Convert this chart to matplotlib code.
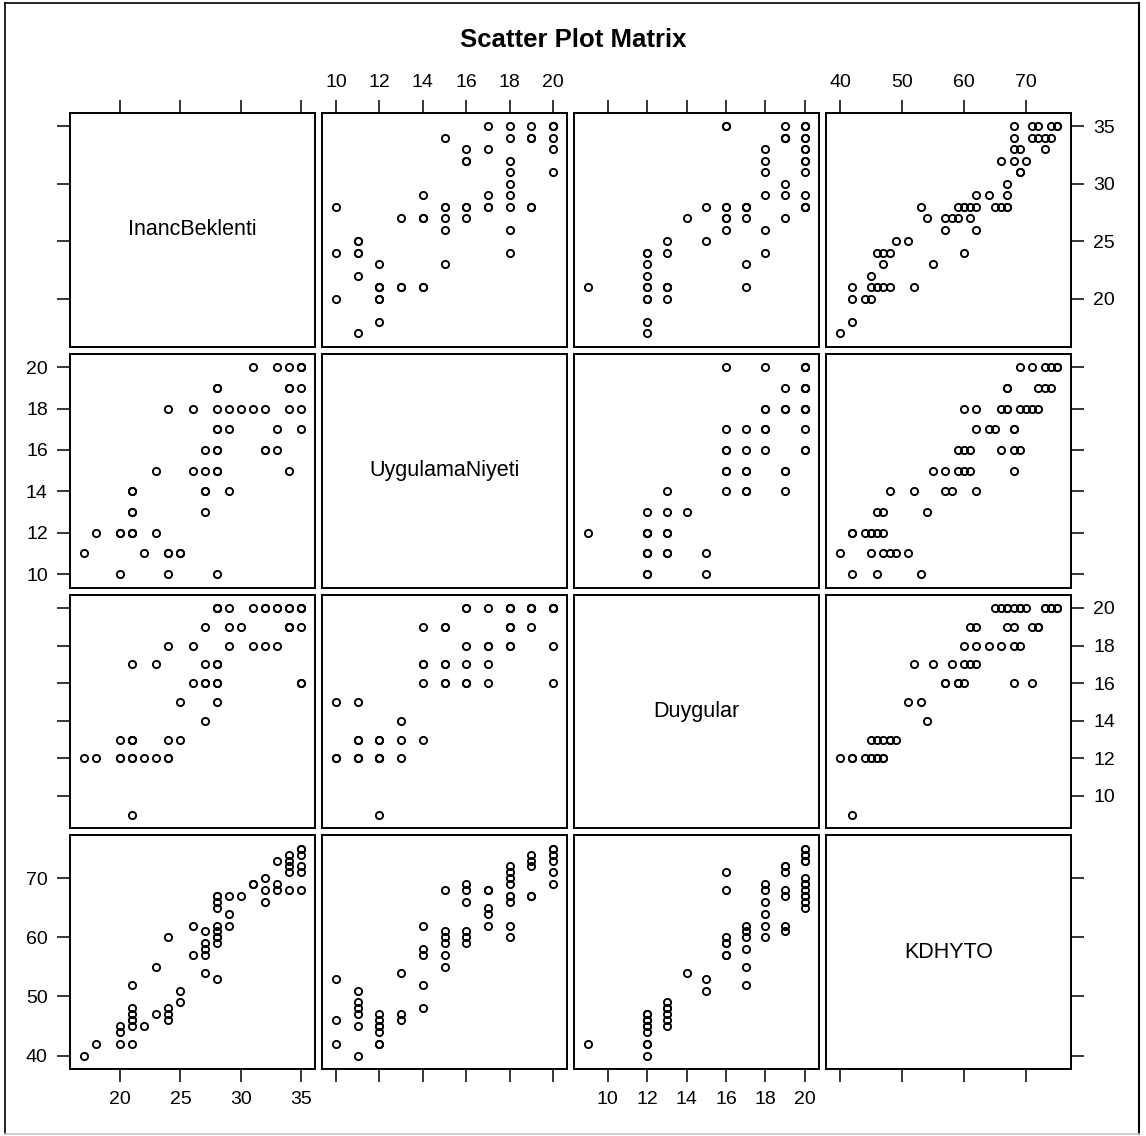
import numpy as np
import matplotlib
matplotlib.use("Agg")
import matplotlib.pyplot as plt
from matplotlib.lines import Line2D

plt.rcParams['font.family'] = ['Liberation Sans', 'DejaVu Sans']

inanc = [17, 18, 20, 20, 20, 21, 21, 21, 21, 21, 21, 21, 22, 23, 23,
         24, 24, 24, 24, 25, 25, 26, 26, 27, 27, 27, 27, 27,
         28, 28, 28, 28, 28, 28, 28, 28, 28, 28, 29, 29, 29, 30, 31, 31,
         32, 32, 32, 33, 33, 33, 34, 34, 34, 34, 34, 35, 35, 35, 35, 35, 35]
uygulama = [11, 12, 12, 10, 12, 14, 14, 13, 13, 12, 12, 12, 11, 15, 12,
            18, 11, 11, 10, 11, 11, 18, 15, 15, 16, 14, 14, 13,
            10, 19, 19, 18, 17, 17, 16, 16, 15, 15, 18, 17, 14, 18, 20, 18,
            18, 16, 16, 20, 16, 17, 20, 19, 19, 18, 15, 20, 20, 19, 18, 20, 17]
duygular = [12, 12, 13, 12, 12, 17, 13, 13, 12, 13, 12, 9, 12, 17, 12,
            18, 13, 12, 12, 15, 13, 18, 16, 19, 16, 17, 16, 14,
            15, 20, 20, 20, 20, 17, 17, 16, 16, 17, 20, 18, 19, 19, 18, 20,
            20, 20, 18, 20, 20, 18, 20, 20, 19, 19, 19, 20, 20, 20, 19, 16, 16]
kdhyto = [40, 42, 45, 42, 44, 52, 48, 47, 46, 46, 45, 42, 45, 55, 47,
          60, 48, 47, 46, 51, 49, 62, 57, 61, 59, 58, 57, 54,
          53, 67, 67, 66, 65, 62, 61, 60, 59, 60, 67, 64, 62, 67, 69, 69,
          70, 68, 66, 73, 69, 68, 74, 73, 72, 71, 68, 75, 75, 74, 72, 71, 68]

names = ['InancBeklenti', 'UygulamaNiyeti', 'Duygular', 'KDHYTO']
columns = [inanc, uygulama, duygular, kdhyto]
tick_sets = [[20, 25, 30, 35],
             [10, 12, 14, 16, 18, 20],
             [10, 12, 14, 16, 18, 20],
             [40, 50, 60, 70]]

W, H = 1146, 1136
fig = plt.figure(figsize=(W / 100, H / 100), dpi=100)

# panel grid in pixels
x0, x1, y0, y1 = 70, 1071, 113, 1069
gap = 7
pw = (x1 - x0 - 3 * gap) / 4
ph = (y1 - y0 - 3 * gap) / 4

def limits(vals):
    lo, hi = min(vals), max(vals)
    pad = 0.065 * (hi - lo)
    return lo - pad, hi + pad

tick_kw = dict(length=9.5, width=1.1, color='black', labelsize=14, pad=6.5)

for r in range(4):
    for c in range(4):
        left = x0 + c * (pw + gap)
        top = y0 + r * (ph + gap)
        ax = fig.add_axes([left / W, 1 - (top + ph) / H, pw / W, ph / H])
        xs, ys = columns[c], columns[r]
        if r != c:
            ax.plot(xs, ys, 'o', ls='none', ms=5.2, mfc='none', mec='black', mew=1.35)
        else:
            ax.text(0.5, 0.5, names[r], ha='center', va='center',
                    fontsize=15.5, transform=ax.transAxes)
        ax.set_xlim(limits(xs))
        ax.set_ylim(limits(ys))
        ax.set_xticks(tick_sets[c])
        ax.set_yticks(tick_sets[r])
        for sp in ax.spines.values():
            sp.set_linewidth(1.4)
        ax.tick_params(axis='both', direction='out', **tick_kw)
        ax.tick_params(axis='x', top=(r == 0), labeltop=(r == 0 and c % 2 == 1),
                       bottom=(r == 3), labelbottom=(r == 3 and c % 2 == 0))
        ax.tick_params(axis='y', left=(c == 0), labelleft=(c == 0 and r % 2 == 1),
                       right=(c == 3), labelright=(c == 3 and r % 2 == 0))

fig.text(0.5, 1 - 40 / H, 'Scatter Plot Matrix', ha='center', va='center',
         fontsize=18.5, fontweight='bold')

# outer frame
fl, fr, ft, fb = 5 / W, 1139 / W, 1 - 3 / H, 1 - 1134 / H
fig.add_artist(Line2D([fl, fr], [ft, ft], color='black', lw=1.2))
fig.add_artist(Line2D([fl, fl], [ft, fb], color='black', lw=1.2))
fig.add_artist(Line2D([fr, fr], [ft, fb], color='black', lw=1.5))
fig.add_artist(Line2D([fl, fr], [fb, fb], color='#c8c8c8', lw=1.2))

fig.savefig('out.png', dpi=100)
